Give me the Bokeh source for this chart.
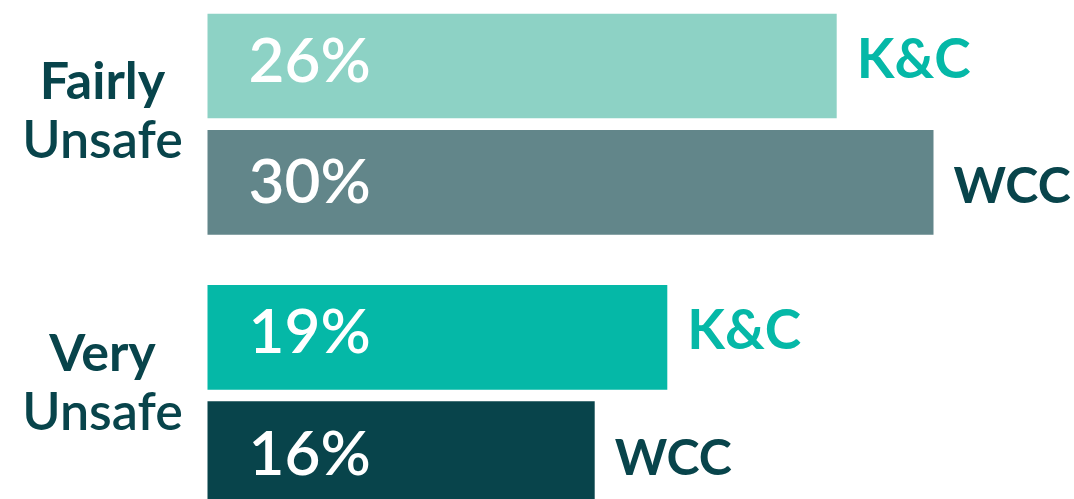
from bokeh.plotting import figure
from bokeh.models import ColumnDataSource, Range1d
from bokeh.core.properties import value
from bokeh.embed import file_html
from bokeh.resources import INLINE

# ---- data ----
groups = ["Fairly Unsafe", "Very Unsafe"]
group_line1 = ["Fairly", "Very"]
group_line2 = ["Unsafe", "Unsafe"]
series = ["K&C", "WCC"]
values = {"K&C": [26, 19], "WCC": [30, 16]}

# ---- styles ----
bar_colors = {("K&C", 0): "#8DD2C5", ("WCC", 0): "#62868A",
              ("K&C", 1): "#05B8A7", ("WCC", 1): "#08444B"}
label_colors = {"K&C": "#05B8A7", "WCC": "#08444B"}
pct_dy = {"K&C": -8, "WCC": -3}
name_dy = {"K&C": -9, "WCC": 2}
name_size = {"K&C": "55px", "WCC": "50px"}
DARK = "#08444B"
FONT_SEMI = "Lato Semibold"
FONT_BOLD = "Lato"

# ---- layout in y units: one unit per bar row ----
GROUP_STEP = 2.333
ys, xs, cols, pct, names, lcols, pdy, ndy, nsz = [], [], [], [], [], [], [], [], []
for g in range(len(groups)):
    for s, name in enumerate(series):
        ys.append(g * GROUP_STEP + s)
        xs.append(values[name][g])
        cols.append(bar_colors[(name, g)])
        pct.append(f"{values[name][g]}%")
        names.append(name)
        lcols.append(label_colors[name])
        pdy.append(pct_dy[name])
        ndy.append(name_dy[name])
        nsz.append(name_size[name])

src = ColumnDataSource(dict(y=ys, x=xs, color=cols, pct=pct, name=names, lcol=lcols,
                            pdy=pdy, ndy=ndy, nsz=nsz))

p = figure(width=1074, height=499, output_backend="svg", toolbar_location=None,
           x_range=Range1d(-207 / 24.2, 867 / 24.2),
           y_range=Range1d(3.727, -0.563),
           min_border=0, min_border_left=0, min_border_right=0,
           min_border_top=0, min_border_bottom=0)
p.axis.visible = False
p.grid.visible = False
p.outline_line_color = None
p.background_fill_color = "white"
p.border_fill_color = "white"

p.hbar(y="y", left=0, right="x", height=0.9, fill_color="color", line_color=None, source=src)

# percentage labels inside bars
p.text(x=0, y="y", text="pct", x_offset=41, y_offset="pdy", text_baseline="middle",
       text_align="left", text_color="white", text_font=value(FONT_SEMI),
       text_font_size="62px", source=src)

# series labels after bars
p.text(x="x", y="y", text="name", x_offset=20, y_offset="ndy", text_baseline="middle",
       text_align="left", text_color="lcol", text_font=value(FONT_BOLD),
       text_font_style="bold", text_font_size="nsz", source=src)

# category labels
gy = [g * GROUP_STEP + 0.5 for g in range(len(groups))]
gsrc = ColumnDataSource(dict(y=gy, l1=group_line1, l2=group_line2))
p.text(x=0, y="y", text="l1", x_offset=-105, y_offset=-45, text_align="center",
       text_baseline="middle", text_color=DARK, text_font=value(FONT_BOLD),
       text_font_style="bold", text_font_size="52px", source=gsrc)
p.text(x=0, y="y", text="l2", x_offset=-105, y_offset=14, text_align="center",
       text_baseline="middle", text_color=DARK, text_font=value(FONT_SEMI),
       text_font_size="52px", source=gsrc)

open("out.html", "w").write(file_html(p, INLINE))
